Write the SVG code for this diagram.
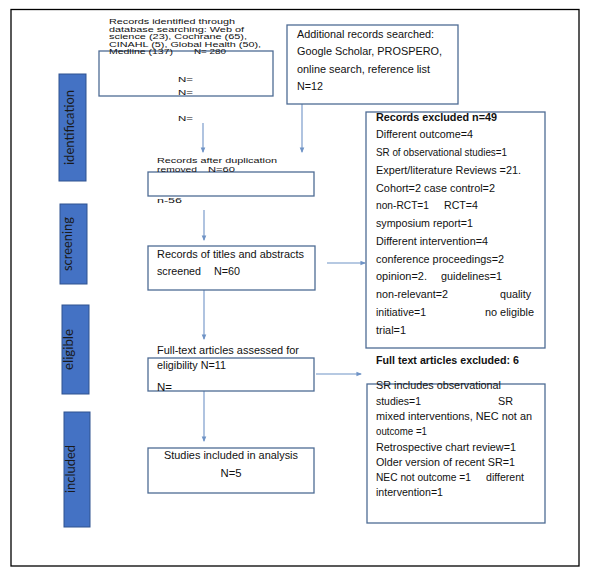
<svg xmlns="http://www.w3.org/2000/svg" width="590" height="586" viewBox="0 0 590 586">
<defs>
<marker id="ah" viewBox="0 0 6 6" refX="5" refY="3" markerWidth="5" markerHeight="5" orient="auto">
<path d="M0,0.5 L6,3 L0,5.5 z" fill="#6f93c6"/>
</marker>
<style>
.box{fill:#fff;stroke:#4e6c94;stroke-width:1.3}
.tab{fill:#4472c4;stroke:#2f528f;stroke-width:1}
.tabt{font-family:Lato,"Open Sans",sans-serif;font-size:14px;fill:#1a1a1a;text-anchor:middle}
.sm{font-family:"Liberation Sans",Arial,sans-serif;font-size:8px;fill:#111}
.t{font-family:"Liberation Sans",Arial,sans-serif;font-size:10.5px;fill:#111}
.tl{font-family:"Liberation Sans",Arial,sans-serif;font-size:11.5px;fill:#111}
.tb{font-family:"Liberation Sans",Arial,sans-serif;font-size:10.5px;font-weight:bold;fill:#111}
.con{stroke:#6f93c6;stroke-width:1.1;fill:none}
</style>
</defs>
<rect x="11" y="9.5" width="568" height="556.5" fill="#fff" stroke="#000" stroke-width="1.3"/>

<g id="tab-identification"><rect class="tab" x="59" y="74" width="27" height="107"/><text class="tabt" transform="rotate(-90 73.5 127.5)" x="73.5" y="127.5" textLength="75" lengthAdjust="spacingAndGlyphs">identification</text></g>
<g id="tab-screening"><rect class="tab" x="60" y="204" width="27" height="80"/><text class="tabt" transform="rotate(-90 71.5 244)" x="71.5" y="244" textLength="54" lengthAdjust="spacingAndGlyphs">screening</text></g>
<g id="tab-eligible"><rect class="tab" x="62" y="305" width="27" height="89"/><text class="tabt" transform="rotate(-90 73 349.5)" x="73" y="349.5" textLength="41" lengthAdjust="spacingAndGlyphs">eligible</text></g>
<g id="tab-included"><rect class="tab" x="64" y="412" width="26" height="115"/><text class="tabt" transform="rotate(-90 75 469)" x="75" y="469" textLength="48" lengthAdjust="spacingAndGlyphs">included</text></g>

<g id="connectors">
<line class="con" x1="203" y1="123" x2="203" y2="152" marker-end="url(#ah)"/>
<line class="con" x1="302" y1="104" x2="302" y2="152" marker-end="url(#ah)"/>
<line class="con" x1="204" y1="210" x2="204" y2="240" marker-end="url(#ah)"/>
<line class="con" x1="327" y1="263" x2="365" y2="263" marker-end="url(#ah)"/>
<line class="con" x1="204" y1="290" x2="204" y2="339" marker-end="url(#ah)"/>
<line class="con" x1="316" y1="374" x2="361" y2="374" marker-end="url(#ah)"/>
<line class="con" x1="204" y1="391" x2="204" y2="441" marker-end="url(#ah)"/>
</g>

<g id="records-identified">
<rect class="box" x="99" y="51" width="174" height="45"/>
<text class="sm" x="109" y="24" textLength="126" lengthAdjust="spacingAndGlyphs">Records identified through</text>
<text class="sm" x="109" y="31.6" textLength="135" lengthAdjust="spacingAndGlyphs">database searching: Web of</text>
<text class="sm" x="109" y="39.2" textLength="138" lengthAdjust="spacingAndGlyphs">science (23), Cochrane (65),</text>
<text class="sm" x="109" y="46.8" textLength="152" lengthAdjust="spacingAndGlyphs">CINAHL (5), Global Health (50),</text>
<text class="sm" x="109" y="54.4" textLength="64" lengthAdjust="spacingAndGlyphs">Medline (137)</text>
<text class="sm" x="194" y="54.4" textLength="32" lengthAdjust="spacingAndGlyphs">N= 280</text>
<text class="sm" x="178" y="82" textLength="15" lengthAdjust="spacingAndGlyphs">N=</text>
<text class="sm" x="178" y="95" textLength="15" lengthAdjust="spacingAndGlyphs">N=</text>
<text class="sm" x="178" y="121" textLength="15" lengthAdjust="spacingAndGlyphs">N=</text>
</g>

<g id="additional-records">
<rect class="box" x="287" y="25" width="171" height="79"/>
<text class="tl" x="297" y="37.5" textLength="137" lengthAdjust="spacingAndGlyphs">Additional records searched:</text>
<text class="tl" x="297" y="55" textLength="145" lengthAdjust="spacingAndGlyphs">Google Scholar, PROSPERO,</text>
<text class="tl" x="297" y="72.5" textLength="133" lengthAdjust="spacingAndGlyphs">online search, reference list</text>
<text class="tl" x="297" y="90" textLength="26" lengthAdjust="spacingAndGlyphs">N=12</text>
</g>

<g id="after-duplicates">
<rect class="box" x="148" y="172" width="166" height="24"/>
<text class="sm" x="157" y="163" textLength="120" lengthAdjust="spacingAndGlyphs">Records after duplication</text>
<text class="sm" x="157" y="171.5" textLength="40" lengthAdjust="spacingAndGlyphs">removed</text>
<text class="sm" x="208" y="171.5" textLength="27" lengthAdjust="spacingAndGlyphs">N=60</text>
<text class="sm" x="157" y="203" textLength="25" lengthAdjust="spacingAndGlyphs">n-56</text>
</g>

<g id="screened">
<rect class="box" x="148" y="246" width="167" height="44"/>
<text class="tl" x="157" y="257.5" textLength="147" lengthAdjust="spacingAndGlyphs">Records of titles and abstracts</text>
<text class="tl" x="157" y="275" textLength="44" lengthAdjust="spacingAndGlyphs">screened</text>
<text class="tl" x="214" y="275" textLength="26" lengthAdjust="spacingAndGlyphs">N=60</text>
</g>

<g id="records-excluded">
<rect class="box" x="366" y="112" width="179" height="236"/>
<text class="tb" x="376" y="120.5" textLength="121" lengthAdjust="spacingAndGlyphs">Records excluded n=49</text>
<text class="t" x="376" y="138.3" textLength="97" lengthAdjust="spacingAndGlyphs">Different outcome=4</text>
<text class="t" x="376" y="156" textLength="131" lengthAdjust="spacingAndGlyphs">SR of observational studies=1</text>
<text class="t" x="376" y="173.8" textLength="145" lengthAdjust="spacingAndGlyphs">Expert/literature Reviews =21.</text>
<text class="t" x="376" y="191.5" textLength="119" lengthAdjust="spacingAndGlyphs">Cohort=2 case control=2</text>
<text class="t" x="376" y="209.3" textLength="53" lengthAdjust="spacingAndGlyphs">non-RCT=1</text>
<text class="t" x="444" y="209.3" textLength="34" lengthAdjust="spacingAndGlyphs">RCT=4</text>
<text class="t" x="376" y="227" textLength="97" lengthAdjust="spacingAndGlyphs">symposium report=1</text>
<text class="t" x="376" y="244.8" textLength="112" lengthAdjust="spacingAndGlyphs">Different intervention=4</text>
<text class="t" x="376" y="262.5" textLength="128" lengthAdjust="spacingAndGlyphs">conference proceedings=2</text>
<text class="t" x="376" y="280.3" textLength="51" lengthAdjust="spacingAndGlyphs">opinion=2.</text>
<text class="t" x="441" y="280.3" textLength="61" lengthAdjust="spacingAndGlyphs">guidelines=1</text>
<text class="t" x="376" y="298" textLength="72" lengthAdjust="spacingAndGlyphs">non-relevant=2</text>
<text class="t" x="500" y="298" textLength="31" lengthAdjust="spacingAndGlyphs">quality</text>
<text class="t" x="376" y="315.8" textLength="50" lengthAdjust="spacingAndGlyphs">initiative=1</text>
<text class="t" x="485" y="315.8" textLength="49" lengthAdjust="spacingAndGlyphs">no eligible</text>
<text class="t" x="376" y="333.5" textLength="30" lengthAdjust="spacingAndGlyphs">trial=1</text>
</g>

<g id="full-text">
<rect class="box" x="148" y="358" width="166" height="33"/>
<text class="t" x="157" y="354" textLength="142" lengthAdjust="spacingAndGlyphs">Full-text articles assessed for</text>
<text class="t" x="157" y="369" textLength="69" lengthAdjust="spacingAndGlyphs">eligibility N=11</text>
<text class="t" x="157" y="391" textLength="15" lengthAdjust="spacingAndGlyphs">N=</text>
</g>

<g id="full-text-excluded">
<text class="tb" x="376" y="364" font-size="9.5" textLength="143" lengthAdjust="spacingAndGlyphs">Full text articles excluded: 6</text>
<rect class="box" x="367" y="384" width="178" height="139"/>
<text class="t" x="376" y="389" textLength="125" lengthAdjust="spacingAndGlyphs">SR includes observational</text>
<text class="t" x="376" y="405" textLength="45" lengthAdjust="spacingAndGlyphs">studies=1</text>
<text class="t" x="498" y="405" textLength="15" lengthAdjust="spacingAndGlyphs">SR</text>
<text class="t" x="376" y="420" textLength="156" lengthAdjust="spacingAndGlyphs">mixed interventions, NEC not an</text>
<text class="t" x="376" y="435" textLength="51" lengthAdjust="spacingAndGlyphs">outcome =1</text>
<text class="t" x="376" y="451" textLength="140" lengthAdjust="spacingAndGlyphs">Retrospective chart review=1</text>
<text class="t" x="376" y="465.5" textLength="139" lengthAdjust="spacingAndGlyphs">Older version of recent SR=1</text>
<text class="t" x="376" y="480.5" textLength="95" lengthAdjust="spacingAndGlyphs">NEC not outcome =1</text>
<text class="t" x="486" y="480.5" textLength="38" lengthAdjust="spacingAndGlyphs">different</text>
<text class="t" x="376" y="496" textLength="67" lengthAdjust="spacingAndGlyphs">intervention=1</text>
</g>

<g id="included-studies">
<rect class="box" x="148" y="448" width="166" height="45"/>
<text class="tl" x="231" y="459" text-anchor="middle" textLength="134" lengthAdjust="spacingAndGlyphs">Studies included in analysis</text>
<text class="tl" x="231" y="477" text-anchor="middle" textLength="21" lengthAdjust="spacingAndGlyphs">N=5</text>
</g>
</svg>
